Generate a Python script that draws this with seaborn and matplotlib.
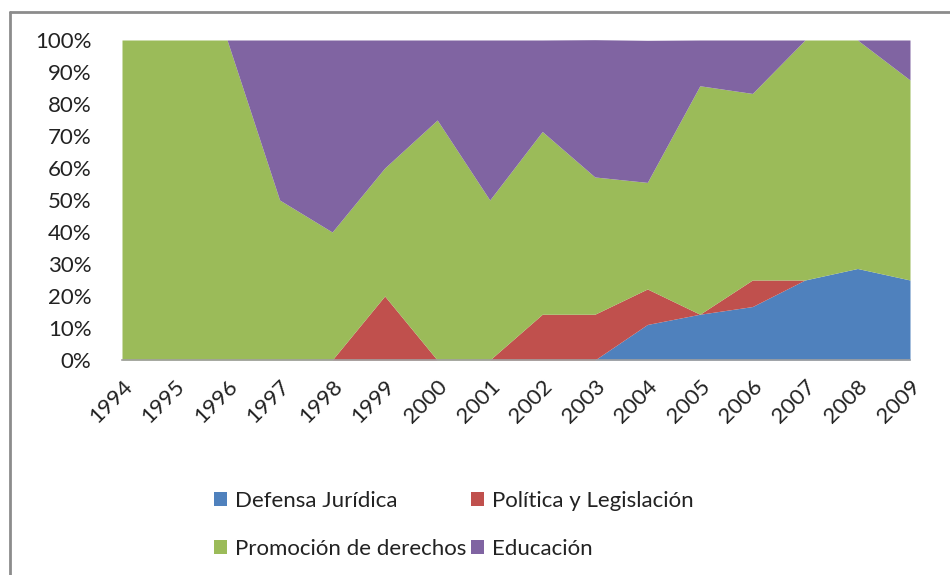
import matplotlib
import matplotlib.pyplot as plt
import seaborn as sns
from matplotlib.lines import Line2D
from matplotlib.patches import Patch
from matplotlib.ticker import PercentFormatter

matplotlib.use('Agg')

years = [1994, 1995, 1996, 1997, 1998, 1999, 2000, 2001,
         2002, 2003, 2004, 2005, 2006, 2007, 2008, 2009]
defensa = [0, 0, 0, 0, 0, 0, 0, 0, 0, 0, 11.1, 14.3, 16.7, 25.0, 28.6, 25.0]
politica = [0, 0, 0, 0, 0, 20.0, 0, 0, 14.3, 14.3, 11.1, 0, 8.3, 0, 0, 0]
promocion = [100, 100, 100, 50.0, 40.0, 40.0, 75.0, 50.0,
             57.1, 42.9, 33.3, 71.4, 58.3, 75.0, 71.4, 62.5]
educacion = [0, 0, 0, 50.0, 60.0, 40.0, 25.0, 50.0,
             28.6, 42.9, 44.4, 14.3, 16.7, 0, 0, 12.5]

labels = ['Defensa Jurídica', 'Política y Legislación', 'Promoción de derechos', 'Educación']
colors = ['#4F81BD', '#C0504D', '#9BBB59', '#8064A2']

sns.set_style('white')
plt.rcParams['font.family'] = ['Lato', 'DejaVu Sans']

fig = plt.figure(figsize=(9.5, 5.75), dpi=100)
ax = fig.add_axes([122 / 950, 1 - 360 / 575, (910 - 122) / 950, 320 / 575])

ax.stackplot(years, defensa, politica, promocion, educacion, colors=colors, linewidth=0)

ax.set_xlim(years[0], years[-1])
ax.set_ylim(0, 100)
ax.set_yticks(range(0, 101, 10))
ax.yaxis.set_major_formatter(PercentFormatter(decimals=0))
ax.set_xticks(years)
ax.set_xticklabels([str(y) for y in years], rotation=45, ha='right', rotation_mode='anchor')
ax.tick_params(axis='both', labelsize=16, length=0, colors='#222222')
ax.tick_params(axis='x', pad=12)
ax.tick_params(axis='y', pad=22)
for side in ['top', 'right', 'left']:
    ax.spines[side].set_visible(False)
ax.spines['bottom'].set_color('#A0A0A0')
ax.spines['bottom'].set_linewidth(1.2)

# legend filled column-wise, so order the entries to read row by row
order = [0, 2, 1, 3]
handles = [Patch(facecolor=colors[i], edgecolor='none') for i in order]
fig.legend(handles, [labels[i] for i in order], ncol=2, loc='upper left',
           bbox_to_anchor=(194 / 950, 1 - 471 / 575),
           frameon=False, fontsize=16, handlelength=0.6, handleheight=0.6, handletextpad=0.35,
           columnspacing=0.2, labelspacing=1.25, labelcolor='#222222')

# chart border (top and left edge of the embedded chart frame)
fig.add_artist(Line2D([10 / 950, 1], [1 - 12 / 575, 1 - 12 / 575], color='#8C8C8C', lw=2))
fig.add_artist(Line2D([10 / 950, 10 / 950], [0, 1 - 12 / 575], color='#8C8C8C', lw=2))

fig.savefig('out.png', dpi=100)
